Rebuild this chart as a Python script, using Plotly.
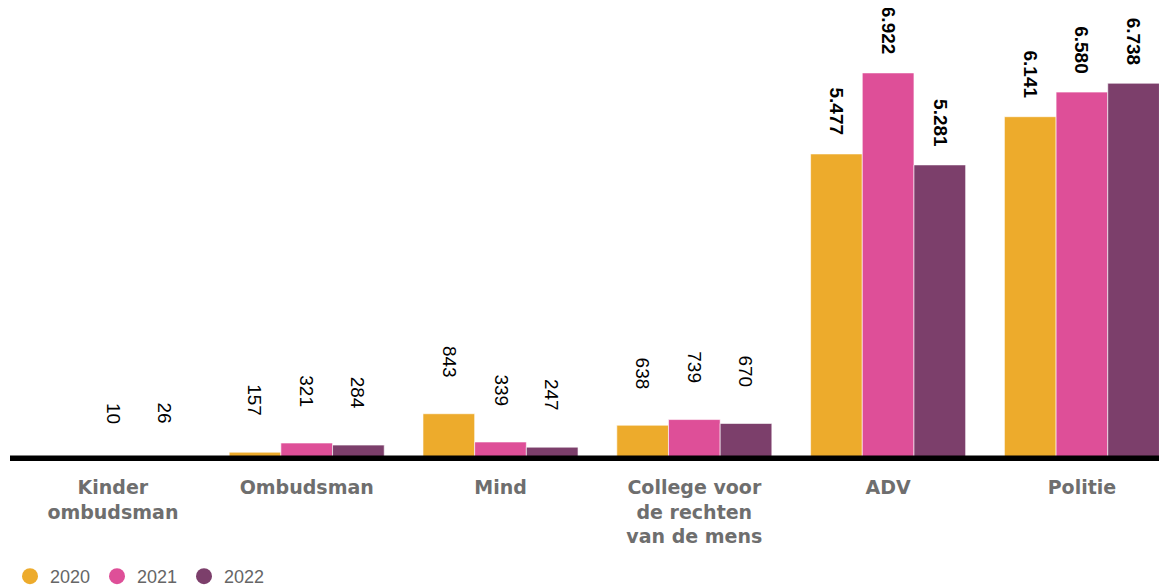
import plotly.graph_objects as go

# categories and yearly counts
categories = [
    "Kinder<br>ombudsman",
    "Ombudsman",
    "Mind",
    "College voor<br>de rechten<br>van de mens",
    "ADV",
    "Politie",
]
years = ["2020", "2021", "2022"]
v2020 = [None, 157, 843, 638, 5477, 6141]
v2021 = [10, 321, 339, 739, 6922, 6580]
v2022 = [26, 284, 247, 670, 5281, 6738]

colors = ["#EDAB2C", "#DE4F98", "#7C3F6B"]
series = [v2020, v2021, v2022]

bargap = 0.2
bar_w = (1 - bargap) / len(years)


def fmt(v):
    # Dutch thousands separator
    return f"{v:,}".replace(",", ".")


fig = go.Figure()
for name, vals, col in zip(years, series, colors):
    fig.add_trace(
        go.Bar(
            x=categories,
            y=vals,
            name=name,
            marker=dict(color=col, line=dict(color="rgba(255,255,255,0.6)", width=1)),
            showlegend=False,
        )
    )
    # legend entry with round markers
    fig.add_trace(
        go.Scatter(
            x=[None],
            y=[None],
            mode="markers",
            name=name,
            marker=dict(color=col, size=22, symbol="circle"),
        )
    )

# rotated value labels above each bar
for i, vals in enumerate(series):
    offset = (i - 1) * bar_w
    for j, v in enumerate(vals):
        if v is None:
            continue
        big = v >= 1000
        fig.add_annotation(
            x=j + offset,
            y=v,
            text=fmt(v),
            textangle=90,
            showarrow=False,
            yanchor="bottom",
            xanchor="center",
            yshift=16 if big else 34,
            font=dict(
                family="Liberation Sans, Arial",
                size=19,
                color="#000000",
                weight="bold" if big else "normal",
            ),
        )

# thick black baseline
fig.add_shape(
    type="line",
    xref="paper",
    yref="y",
    x0=0,
    x1=1,
    y0=0,
    y1=0,
    line=dict(color="#000000", width=11),
    layer="above",
)

# page body has an 8px margin, so the figure is sized to fit the window
fig.update_layout(
    width=1159,
    height=579,
    barmode="group",
    bargap=bargap,
    bargroupgap=0,
    plot_bgcolor="white",
    paper_bgcolor="white",
    margin=dict(l=2, r=0, t=0, b=126, autoexpand=False),
    legend=dict(
        orientation="h",
        x=0,
        xanchor="left",
        y=-0.255,
        yanchor="middle",
        entrywidth=42,
        font=dict(family="Liberation Sans, Arial", size=18, color="#666666"),
        itemclick=False,
    ),
)
fig.update_xaxes(
    range=[-0.531, 5.439],
    showgrid=False,
    showline=False,
    ticks="",
    tickfont=dict(family="DejaVu Sans", size=19, color="#6E6E6E", weight="bold"),
    ticklabelstandoff=13,
    automargin=False,
)
fig.update_yaxes(
    range=[0, 8080],
    showgrid=False,
    zeroline=False,
    showticklabels=False,
    showline=False,
    automargin=False,
)

fig.write_html("out.html")
